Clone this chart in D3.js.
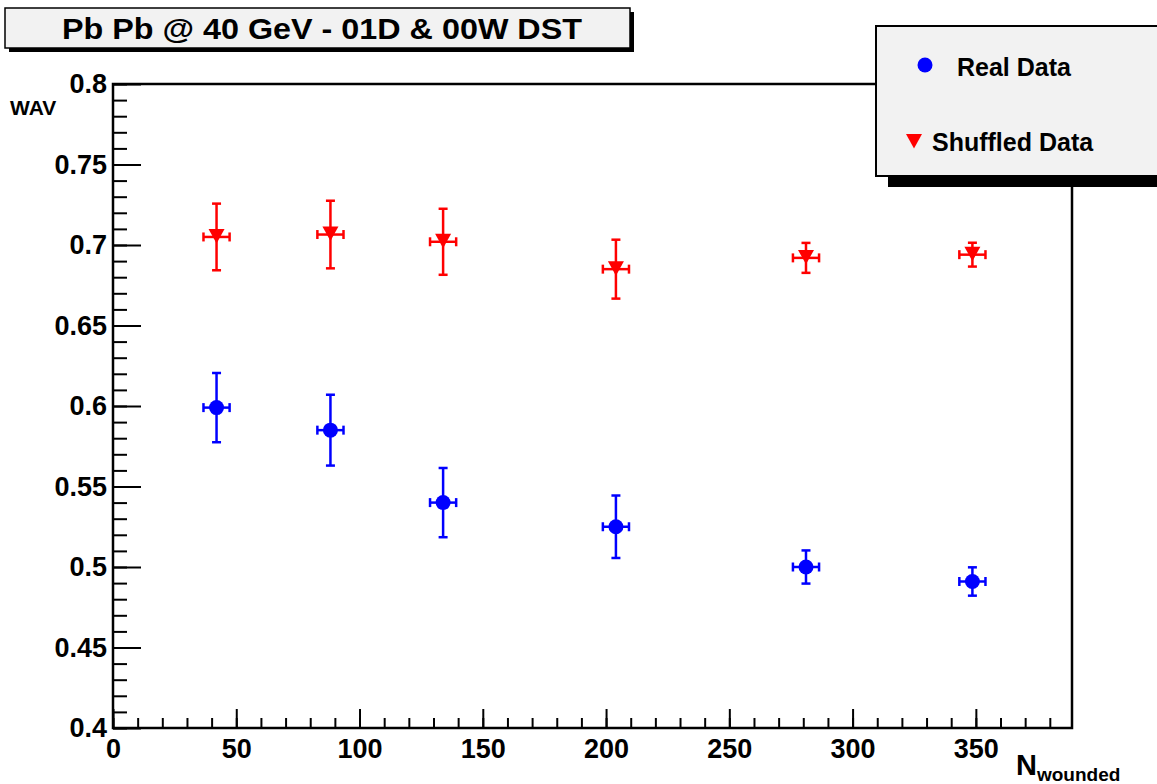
<!DOCTYPE html>
<html>
<head>
<meta charset="utf-8">
<script src="https://cdn.jsdelivr.net/npm/d3@7"></script>
<style>
  body { margin: 0; background: #fff; }
  text { font-family: "Liberation Sans", Arial, Helvetica, sans-serif; font-weight: bold; }
</style>
</head>
<body>
<div class="WavChart"></div>
<script>
// data
let nWounded = [42.0, 88.2, 133.9, 204.0, 281.1, 348.6];
let nWoundedErr = [5.3, 5.3, 5.3, 5.3, 5.3, 5.3];
let realWav = [0.599, 0.585, 0.540, 0.525, 0.500, 0.491];
let realErr = [0.0215, 0.022, 0.0215, 0.0194, 0.0103, 0.0088];
let shuffledWav = [0.705, 0.7065, 0.702, 0.685, 0.692, 0.694];
let shuffledErr = [0.0207, 0.021, 0.0205, 0.0183, 0.0093, 0.0074];
let xTicks = [0, 50, 100, 150, 200, 250, 300, 350];
let yTicks = [0.4, 0.45, 0.5, 0.55, 0.6, 0.65, 0.7, 0.75, 0.8];

let titleText = "Pb Pb @ 40 GeV - 01D & 00W DST";
let seriesNames = ["Real Data", "Shuffled Data"];

let width = 1157, height = 784;
let frame = { left: 113, right: 1072, top: 84, bottom: 728 };

let svg = d3
  .select(".WavChart")
  .append("svg")
  .attr("width", width)
  .attr("height", height)
  .style("display", "block");

svg.append("rect").attr("width", width).attr("height", height).attr("fill", "#fff");

let x = d3.scaleLinear().domain([0, 389]).range([frame.left, frame.right]);
let y = d3.scaleLinear().domain([0.4, 0.8]).range([frame.bottom, frame.top]);

// minor ticks (drawn inside the frame, ROOT style)
svg
  .append("g")
  .attr("transform", "translate(0," + frame.bottom + ")")
  .call(d3.axisBottom(x).tickValues(d3.range(0, 390, 10)).tickSize(-10).tickFormat(""))
  .call((g) => g.select(".domain").remove())
  .selectAll("line")
  .attr("stroke-width", 2);

svg
  .append("g")
  .attr("transform", "translate(" + frame.left + ",0)")
  .call(d3.axisLeft(y).tickValues(d3.range(40, 81, 1).map((d) => d / 100)).tickSize(-14).tickFormat(""))
  .call((g) => g.select(".domain").remove())
  .selectAll("line")
  .attr("stroke-width", 2);

// major ticks + labels
let xAxis = svg
  .append("g")
  .attr("transform", "translate(0," + frame.bottom + ")")
  .call(d3.axisBottom(x).tickValues(xTicks).tickSizeInner(-19).tickSizeOuter(0).tickPadding(11));
xAxis.select(".domain").remove();
xAxis.selectAll("line").attr("stroke-width", 2);
xAxis.selectAll("text").attr("font-size", 27).attr("fill", "#000");

let yAxis = svg
  .append("g")
  .attr("transform", "translate(" + frame.left + ",0)")
  .call(
    d3
      .axisLeft(y)
      .tickValues(yTicks)
      .tickSizeInner(-28)
      .tickSizeOuter(0)
      .tickPadding(6)
      .tickFormat((d) => String(+d.toFixed(2)))
  );
yAxis.select(".domain").remove();
yAxis.selectAll("line").attr("stroke-width", 2);
yAxis.selectAll("text").attr("font-size", 27).attr("fill", "#000");

// frame
svg
  .append("rect")
  .attr("x", frame.left)
  .attr("y", frame.top)
  .attr("width", frame.right - frame.left)
  .attr("height", frame.bottom - frame.top)
  .attr("fill", "none")
  .attr("stroke", "#000")
  .attr("stroke-width", 2.5);

// axis titles
svg.append("text").attr("x", 10).attr("y", 115).attr("font-size", 21).text("WAV");
let xTitle = svg.append("text").attr("x", 1016).attr("y", 775).attr("font-size", 29);
xTitle.append("tspan").text("N");
xTitle.append("tspan").attr("font-size", 19).attr("dy", 6).text("wounded");

// error bars with end caps
function drawErrors(vals, errs, color) {
  let g = svg.append("g").attr("stroke", color).attr("stroke-width", 2.5).attr("fill", "none");
  let cap = 4.5;
  nWounded.forEach((n, i) => {
    let cx = x(n), cy = y(vals[i]);
    let y0 = y(vals[i] - errs[i]), y1 = y(vals[i] + errs[i]);
    let x0 = x(n - nWoundedErr[i]), x1 = x(n + nWoundedErr[i]);
    g.append("line").attr("x1", cx).attr("x2", cx).attr("y1", y0).attr("y2", y1);
    g.append("line").attr("x1", cx - cap).attr("x2", cx + cap).attr("y1", y0).attr("y2", y0);
    g.append("line").attr("x1", cx - cap).attr("x2", cx + cap).attr("y1", y1).attr("y2", y1);
    g.append("line").attr("x1", x0).attr("x2", x1).attr("y1", cy).attr("y2", cy);
    g.append("line").attr("x1", x0).attr("x2", x0).attr("y1", cy - cap).attr("y2", cy + cap);
    g.append("line").attr("x1", x1).attr("x2", x1).attr("y1", cy - cap).attr("y2", cy + cap);
  });
}

function triangleDown(cx, cy, s) {
  // bbox centred slightly above the point like ROOT's marker 23
  let h = s * 0.9;
  return "M" + (cx - s / 2) + "," + (cy - h * 0.55) + "L" + (cx + s / 2) + "," + (cy - h * 0.55) + "L" + cx + "," + (cy + h * 0.45) + "Z";
}

drawErrors(shuffledWav, shuffledErr, "#ff0000");
drawErrors(realWav, realErr, "#0000ff");

svg
  .append("g")
  .selectAll("path")
  .data(shuffledWav)
  .join("path")
  .attr("d", (d, i) => triangleDown(x(nWounded[i]), y(d), 16))
  .attr("fill", "#ff0000");

svg
  .append("g")
  .selectAll("circle")
  .data(realWav)
  .join("circle")
  .attr("cx", (d, i) => x(nWounded[i]))
  .attr("cy", (d) => y(d))
  .attr("r", 7.5)
  .attr("fill", "#0000ff");

// title box with shadow
svg.append("rect").attr("x", 9).attr("y", 12).attr("width", 625).attr("height", 40).attr("fill", "#000");
svg
  .append("rect")
  .attr("x", 5)
  .attr("y", 8)
  .attr("width", 625)
  .attr("height", 40)
  .attr("fill", "#f2f2f2")
  .attr("stroke", "#000")
  .attr("stroke-width", 1.5);
svg
  .append("text")
  .attr("x", 322)
  .attr("y", 39)
  .attr("text-anchor", "middle")
  .attr("font-size", 30)
  .attr("textLength", 520)
  .attr("lengthAdjust", "spacingAndGlyphs")
  .text(titleText);

// legend box with shadow
svg.append("rect").attr("x", 888).attr("y", 37).attr("width", 300).attr("height", 150).attr("fill", "#000");
svg
  .append("rect")
  .attr("x", 876)
  .attr("y", 26)
  .attr("width", 300)
  .attr("height", 150)
  .attr("fill", "#f2f2f2")
  .attr("stroke", "#000")
  .attr("stroke-width", 2);

svg.append("circle").attr("cx", 925).attr("cy", 65).attr("r", 7.5).attr("fill", "#0000ff");
svg.append("path").attr("d", triangleDown(914, 142, 16)).attr("fill", "#ff0000");
svg.append("text").attr("x", 957).attr("y", 76).attr("font-size", 25).text(seriesNames[0]);
svg.append("text").attr("x", 932).attr("y", 151).attr("font-size", 25).text(seriesNames[1]);
</script>
</body>
</html>
